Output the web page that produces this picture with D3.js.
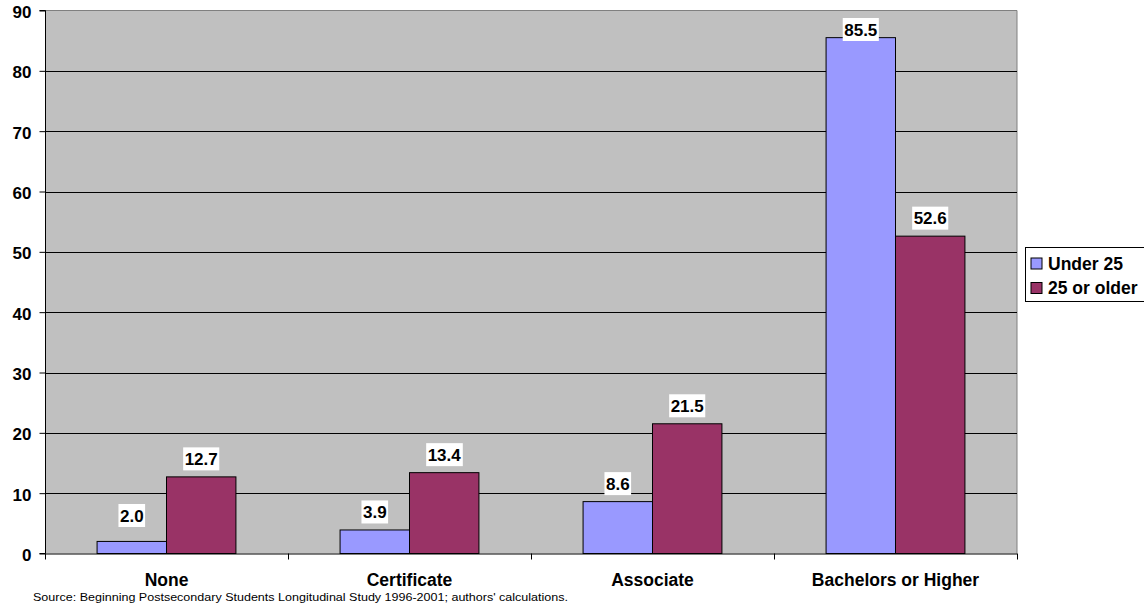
<!DOCTYPE html>
<html>
<head>
<meta charset="utf-8">
<script src="https://cdn.jsdelivr.net/npm/d3@7"></script>
<style>
  html, body { margin: 0; padding: 0; background: #fff; }
  svg { display: block; font-family: Arial, "Liberation Sans", sans-serif; }
</style>
</head>
<body>
<svg id="chart" width="1144" height="609"></svg>
<script>
// Degree attainment by age at first enrollment (percent)
const categories = ["None", "Certificate", "Associate", "Bachelors or Higher"];
const seriesNames = ["Under 25", "25 or older"];
const under25 = [2.0, 3.9, 8.6, 85.5];
const age25plus = [12.7, 13.4, 21.5, 52.6];
const yTicks = [0, 10, 20, 30, 40, 50, 60, 70, 80, 90];
const colors = ["#9999FF", "#993366"];
const sourceNote = "Source:  Beginning Postsecondary Students Longitudinal Study 1996-2001; authors' calculations.";

const svg = d3.select("#chart");
const plot = { left: 45, right: 1017, top: 10.5, bottom: 553.5 };

const x = d3.scaleBand().domain(categories).range([plot.left, plot.right]).padding(0);
const y = d3.scaleLinear().domain([0, 90]).range([plot.bottom, plot.top]);

// Plot background
svg.append("rect")
  .attr("x", plot.left).attr("y", plot.top)
  .attr("width", plot.right - plot.left).attr("height", plot.bottom - plot.top)
  .attr("fill", "#C0C0C0");

// Top and right border of the plot area
svg.append("path")
  .attr("d", `M${plot.left},${plot.top}H${plot.right}V${plot.bottom}`)
  .attr("fill", "none").attr("stroke", "#808080").attr("stroke-width", 1);

// Horizontal gridlines
svg.append("g").selectAll("line")
  .data(yTicks.filter(t => t > 0 && t < 90))
  .join("line")
  .attr("x1", plot.left).attr("x2", plot.right)
  .attr("y1", d => Math.round(y(d)) + 0.5).attr("y2", d => Math.round(y(d)) + 0.5)
  .attr("stroke", "#000").attr("stroke-width", 1);

// Bars: two per category, gap width 150%
const barW = x.bandwidth() / 3.5;
const data = categories.map((c, i) => ({ cat: c, vals: [under25[i], age25plus[i]] }));
const groups = svg.append("g").selectAll("g")
  .data(data).join("g")
  .attr("transform", d => `translate(${x(d.cat) + x.bandwidth() / 2 - barW},0)`);

groups.selectAll("rect")
  .data(d => d.vals.map((v, k) => ({ v, k })))
  .join("rect")
  .attr("x", d => d.k * barW)
  .attr("y", d => y(d.v))
  .attr("width", barW)
  .attr("height", d => y(0) - y(d.v))
  .attr("fill", d => colors[d.k])
  .attr("stroke", "#000").attr("stroke-width", 1);

// Value labels with white backing, kept inside the plot area
const labelH = 23;
groups.each(function(d) {
  const g = d3.select(this);
  d.vals.forEach((v, k) => {
    const cx = k * barW + barW / 2;
    const cy = Math.min(Math.max(y(v) - 18, plot.top + 19), plot.bottom - 38);
    const t = g.append("text")
      .attr("x", cx).attr("y", cy)
      .attr("text-anchor", "middle").attr("dy", "0.36em")
      .attr("font-weight", "bold").attr("font-size", 17)
      .text(v.toFixed(1));
    const bb = t.node().getBBox();
    g.insert("rect", "text")
      .attr("x", bb.x - 1.5).attr("y", cy - labelH / 2)
      .attr("width", bb.width + 3).attr("height", labelH)
      .attr("fill", "#fff");
  });
});

// Y axis
const yAxis = d3.axisLeft(y).tickValues(yTicks).tickSize(6).tickPadding(8);
const gy = svg.append("g").attr("transform", `translate(${plot.left + 0.5},0)`).call(yAxis);
gy.select(".domain").attr("stroke", "#000").attr("d", `M-6,${plot.top}H0V${plot.bottom}H-6`);
gy.selectAll(".tick line").attr("stroke", "#000");
gy.selectAll(".tick text")
  .attr("font-size", 17).attr("font-weight", "bold").attr("fill", "#000")
  .attr("dy", "0.42em")
  .attr("font-family", "Arial, 'Liberation Sans', sans-serif");

// X axis with ticks at category boundaries
svg.append("line")
  .attr("x1", plot.left).attr("x2", plot.right)
  .attr("y1", plot.bottom + 0.5).attr("y2", plot.bottom + 0.5)
  .attr("stroke", "#000");
const bounds = categories.map(c => x(c)).concat([plot.right]);
svg.append("g").selectAll("line").data(bounds).join("line")
  .attr("x1", d => Math.round(d) + 0.5).attr("x2", d => Math.round(d) + 0.5)
  .attr("y1", plot.bottom).attr("y2", plot.bottom + 6)
  .attr("stroke", "#000");
svg.append("g").selectAll("text").data(categories).join("text")
  .attr("x", d => x(d) + x.bandwidth() / 2)
  .attr("y", 586)
  .attr("text-anchor", "middle")
  .attr("font-size", 17.5).attr("font-weight", "bold")
  .text(d => d);

// Source note
svg.append("text")
  .attr("x", 33).attr("y", 601)
  .attr("font-size", 11)
  .attr("textLength", 535).attr("lengthAdjust", "spacingAndGlyphs")
  .text(sourceNote);

// Legend
const lg = svg.append("g").attr("transform", "translate(1025.5,247.5)");
lg.append("rect").attr("width", 120).attr("height", 54)
  .attr("fill", "#fff").attr("stroke", "#000");
seriesNames.forEach((n, i) => {
  const yy = 16 + i * 24.5;
  lg.append("rect").attr("x", 5.5).attr("y", yy - 5.5).attr("width", 11).attr("height", 11)
    .attr("fill", colors[i]).attr("stroke", "#000");
  lg.append("text").attr("x", 22.5).attr("y", yy).attr("dy", "0.36em")
    .attr("font-size", 17.5).attr("font-weight", "bold").text(n);
});
</script>
</body>
</html>
